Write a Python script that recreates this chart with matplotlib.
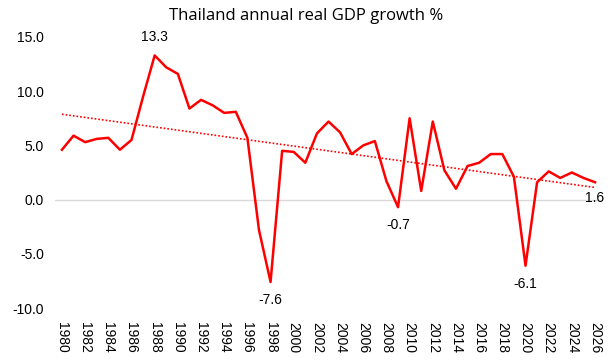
import numpy as np
import matplotlib
matplotlib.use("Agg")
import matplotlib.pyplot as plt

years = list(range(1980, 2027))
growth = [4.6, 5.9, 5.3, 5.6, 5.7, 4.6, 5.5, 9.5, 13.3, 12.2,
          11.6, 8.4, 9.2, 8.7, 8.0, 8.1, 5.7, -2.8, -7.6, 4.5,
          4.4, 3.4, 6.1, 7.2, 6.2, 4.2, 5.0, 5.4, 1.7, -0.7,
          7.5, 0.8, 7.2, 2.7, 1.0, 3.1, 3.4, 4.2, 4.2, 2.1,
          -6.1, 1.6, 2.6, 2.0, 2.5, 2.0, 1.6]
tick_years = list(range(1980, 2027, 2))
labelled = {1988: "13.3", 1998: "-7.6", 2009: "-0.7", 2020: "-6.1", 2026: "1.6"}

plt.rcParams['font.family'] = ['Liberation Sans', 'DejaVu Sans']

fig = plt.figure(figsize=(6.12, 3.62), dpi=100)
ax = fig.add_axes([55 / 612, 54 / 362, 547 / 612, 271 / 362])

ax.plot(years, growth, color='#ff0000', lw=1.8, zorder=3)

# linear trendline
coef = np.polyfit(years, growth, 1)
trend = np.polyval(coef, years)
ax.plot(years, trend, color='#ff0000', lw=1.2, ls=(0, (1, 1.2)), zorder=2)

ax.axhline(0, color='#d9d9d9', lw=1, zorder=1)

for yr, txt in labelled.items():
    v = growth[years.index(yr)]
    if v > 5:
        ax.annotate(txt, (yr, v), xytext=(0, 8), textcoords='offset points',
                    ha='center', va='bottom', fontsize=10)
    elif yr == 2026:
        ax.annotate(txt, (yr, v), xytext=(0, -6), textcoords='offset points',
                    ha='center', va='top', fontsize=10)
    else:
        ax.annotate(txt, (yr, v), xytext=(0, -8), textcoords='offset points',
                    ha='center', va='top', fontsize=10)

ax.set_xlim(1979.4, 2026.6)
ax.set_ylim(-10, 15)
ax.set_yticks([-10, -5, 0, 5, 10, 15])
ax.set_yticklabels([f"{v:.1f}" for v in [-10, -5, 0, 5, 10, 15]], fontsize=10)
ax.set_xticks(tick_years)
ax.set_xticklabels([str(y) for y in tick_years], rotation=270, fontsize=10)
ax.tick_params(length=0, pad=8)
ax.tick_params(axis='x', pad=10)
for s in ax.spines.values():
    s.set_visible(False)

fig.text(0.5, 0.955, "Thailand annual real GDP growth %", ha='center', va='center',
         fontsize=12, family=['Open Sans', 'DejaVu Sans'])

fig.savefig("out.png", dpi=100)
